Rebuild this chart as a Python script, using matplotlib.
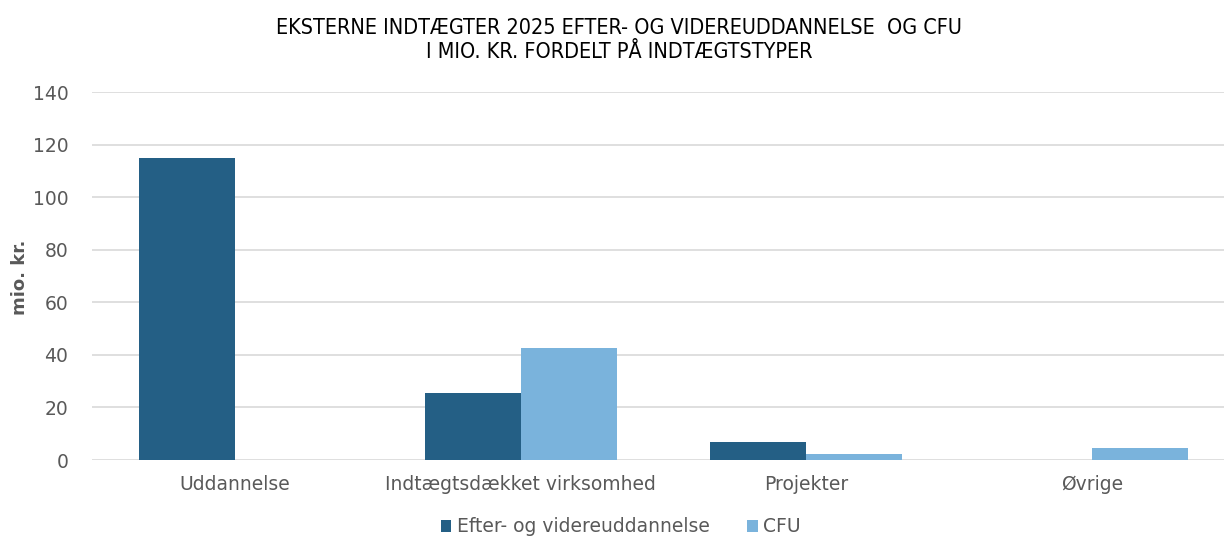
import matplotlib
matplotlib.use("Agg")
import numpy as np
import matplotlib.pyplot as plt

kategorier = ["Uddannelse", "Indtægtsdækket virksomhed", "Projekter", "Øvrige"]
evu = [115, 25.5, 6.8, 0]
cfu = [0, 42.6, 2.3, 4.5]
serier = ["Efter- og videreuddannelse", "CFU"]
y_ticks = [0, 20, 40, 60, 80, 100, 120, 140]

plt.rcParams['font.family'] = ['DejaVu Sans']

fig = plt.figure(figsize=(12.24, 5.36), dpi=100)
ax = fig.add_axes([92 / 1224, 76 / 536, (1235 - 92) / 1224, 368 / 536])

x = np.arange(len(kategorier))
w = 0.336
ax.bar(x - w / 2, evu, w, color="#245F85", label=serier[0], zorder=3)
ax.bar(x + w / 2, cfu, w, color="#7AB3DC", label=serier[1], zorder=3)

ax.set_xlim(-0.5, 3.5)
ax.set_ylim(0, 140)
ax.set_yticks(y_ticks)
ax.set_xticks(x)
ax.set_xticklabels(kategorier)
ax.grid(axis="y", color="#D9D9D9", linewidth=1.2, zorder=0)
for s in ax.spines.values():
    s.set_visible(False)
ax.tick_params(axis="both", length=0, labelsize=13.5, colors="#595959")
ax.tick_params(axis="x", pad=11)
ax.tick_params(axis="y", pad=17)

fig.text(20 / 1224, 1 - 277 / 536, "mio. kr.", rotation=90, ha="center", va="center",
         fontsize=13, fontweight="bold", color="#595959")

# titel: smal skrift med luft mellem bogstaverne
titel_font = dict(family="DejaVu Sans", stretch="condensed")
fig.text(619 / 1224, 1 - 28 / 536, "EKSTERNE INDTÆGTER 2025 EFTER- OG VIDEREUDDANNELSE  OG CFU",
         ha="center", va="center", fontsize=15.5, color="#000000", **titel_font)
fig.text(619 / 1224, 1 - 52 / 536, "I MIO. KR. FORDELT PÅ INDTÆGTSTYPER",
         ha="center", va="center", fontsize=15.5, color="#000000", **titel_font)

fig.legend(loc="center", bbox_to_anchor=(621 / 1224, 1 - 527 / 536), ncol=2, frameon=False,
           fontsize=13.5, handlelength=0.55, handleheight=0.55, handletextpad=0.3,
           columnspacing=2.0, labelcolor="#595959")

fig.savefig("out.png", dpi=100)
